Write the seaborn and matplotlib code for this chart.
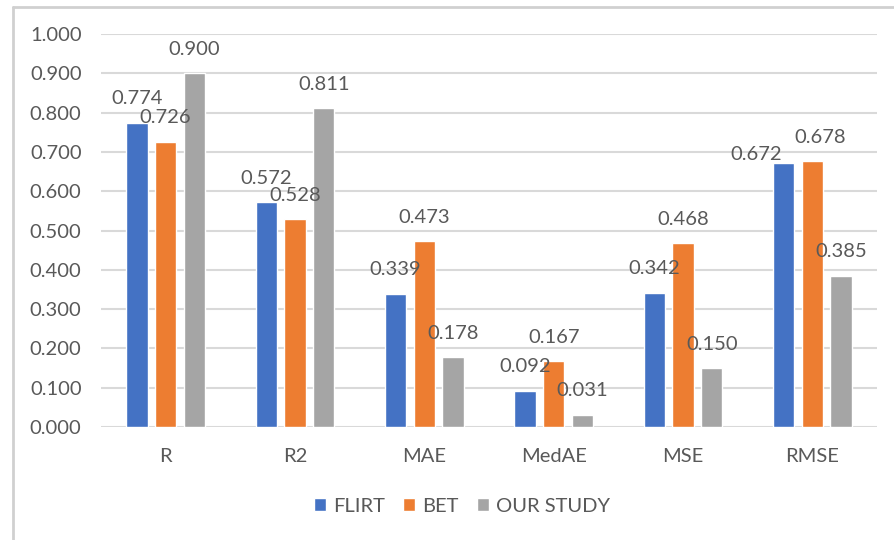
import matplotlib
matplotlib.use("Agg")
import matplotlib.pyplot as plt
from matplotlib.lines import Line2D
import seaborn as sns
import pandas as pd

metrics = ["R", "R2", "MAE", "MedAE", "MSE", "RMSE"]
methods = ["FLIRT", "BET", "OUR STUDY"]
flirt = [0.774, 0.572, 0.339, 0.092, 0.342, 0.672]
bet = [0.726, 0.528, 0.473, 0.167, 0.468, 0.678]
our_study = [0.900, 0.811, 0.178, 0.031, 0.150, 0.385]
y_ticks = [0.0, 0.1, 0.2, 0.3, 0.4, 0.5, 0.6, 0.7, 0.8, 0.9, 1.0]

colors = ["#4472C4", "#ED7D31", "#A5A5A5"]
text_color = "#595959"
grid_color = "#D9D9D9"
font_size = 14.5

df = pd.DataFrame({
    "metric": metrics * 3,
    "method": [methods[0]] * 6 + [methods[1]] * 6 + [methods[2]] * 6,
    "value": flirt + bet + our_study,
})

sns.set_theme(style="white")
plt.rcParams["font.family"] = ["Lato", "DejaVu Sans"]

fig = plt.figure(figsize=(8.95, 5.4), dpi=100)
ax = fig.add_axes([101 / 895, 1 - 427 / 540, (877 - 101) / 895, (427 - 34) / 540])

sns.barplot(data=df, x="metric", y="value", hue="method", order=metrics,
            hue_order=methods, palette=colors, width=0.667, gap=0.26,
            saturation=1, ax=ax, legend=True, errorbar=None)

ax.set_ylim(0, 1.0)
ax.set_xlim(-0.5, len(metrics) - 0.5)
ax.set_yticks(y_ticks)
ax.set_yticklabels([f"{t:.3f}" for t in y_ticks])
ax.yaxis.grid(True, color=grid_color, linewidth=1.5)
ax.set_axisbelow(True)
for s in ax.spines.values():
    s.set_visible(False)
ax.tick_params(axis="both", length=0, labelsize=font_size, labelcolor=text_color)
ax.tick_params(axis="y", pad=14)
ax.tick_params(axis="x", pad=15)
ax.set_xlabel("")
ax.set_ylabel("")

# value labels above each bar; a couple are nudged apart where they collide
label_nudge = {("RMSE", "FLIRT"): (-20, -11), ("RMSE", "BET"): (6, -1)}
for method, cont in zip(methods, ax.containers):
    for metric, bar in zip(metrics, cont):
        h = bar.get_height()
        dx, dy = label_nudge.get((metric, method), (0, 0))
        ax.annotate(f"{h:.3f}", (bar.get_x() + bar.get_width() / 2, h),
                    xytext=(dx, 17.3 + dy), textcoords="offset points",
                    ha="center", va="center", fontsize=font_size, color=text_color)

handles, labels = ax.get_legend_handles_labels()
ax.legend_.remove()
fig.legend(handles, labels, loc="center", bbox_to_anchor=(462 / 895, 1 - 506 / 540),
           ncol=3, frameon=False, fontsize=font_size, labelcolor=text_color,
           handlelength=0.6, handleheight=0.6, handletextpad=0.35, columnspacing=0.9)

# chart frame edges
fig.add_artist(Line2D([13 / 895, 1.0], [1 - 7 / 540, 1 - 7 / 540],
                      transform=fig.transFigure, color="#D0D0D0", linewidth=2))
fig.add_artist(Line2D([13 / 895, 13 / 895], [0, 1 - 7 / 540],
                      transform=fig.transFigure, color="#D0D0D0", linewidth=2))

fig.savefig("out.png", dpi=100, facecolor="white")
